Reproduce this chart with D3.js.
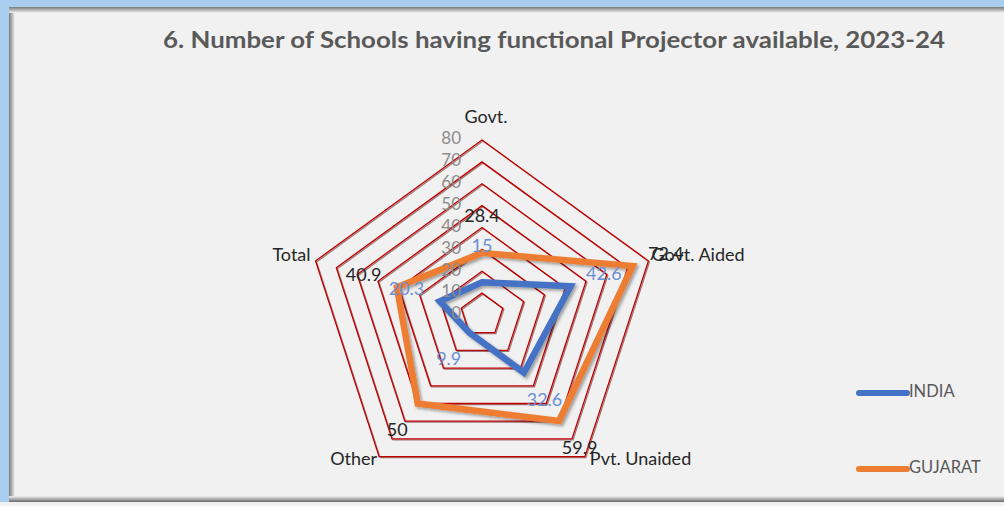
<!DOCTYPE html>
<html>
<head>
<meta charset="utf-8">
<script src="https://cdn.jsdelivr.net/npm/d3@7"></script>
<style>
  html, body { margin: 0; padding: 0; background: #f1f1f1; }
  svg { display: block; }
  text { font-family: Lato, "Open Sans", "DejaVu Sans", sans-serif; }
</style>
</head>
<body>
<svg id="chart" width="1004" height="506"></svg>
<script>
const categories = ["Govt.", "Govt. Aided", "Pvt. Unaided", "Other", "Total"];
const india = [15, 42.6, 32.6, 9.9, 20.3];
const gujarat = [28.4, 72.4, 59.9, 50, 40.9];
const tickValues = [0, 10, 20, 30, 40, 50, 60, 70, 80];
const seriesNames = ["INDIA", "GUJARAT"];
const seriesColors = ["#4472c4", "#ed7d31"];
const labelColors = ["#6b8fd2", "#262626"];
const titleText = "6. Number of Schools having functional Projector available, 2023-24";

const W = 1004, H = 506;
const cx = 482, cy = 315, R = 175;
const svg = d3.select("#chart");

// defs
const defs = svg.append("defs");
const gl = defs.append("linearGradient").attr("id", "gl").attr("x1", 0).attr("x2", 1).attr("y1", 0).attr("y2", 0);
gl.append("stop").attr("offset", 0).attr("stop-color", "#7a7a7a");
gl.append("stop").attr("offset", 1).attr("stop-color", "#f1f1f1");
const gt = defs.append("linearGradient").attr("id", "gt").attr("x1", 0).attr("x2", 0).attr("y1", 0).attr("y2", 1);
gt.append("stop").attr("offset", 0).attr("stop-color", "#7a7a7a");
gt.append("stop").attr("offset", 1).attr("stop-color", "#f1f1f1");
const gb = defs.append("linearGradient").attr("id", "gb").attr("x1", 0).attr("x2", 0).attr("y1", 0).attr("y2", 1);
gb.append("stop").attr("offset", 0).attr("stop-color", "#f1f1f1");
gb.append("stop").attr("offset", 1).attr("stop-color", "#6a6a6a");
const sh = defs.append("filter").attr("id", "shadow").attr("x", "-20%").attr("y", "-20%").attr("width", "140%").attr("height", "140%");
sh.append("feDropShadow").attr("dx", 2).attr("dy", 2).attr("stdDeviation", 1.5).attr("flood-color", "#000").attr("flood-opacity", 0.35);
const shr = defs.append("filter").attr("id", "rshadow").attr("x", "-10%").attr("y", "-10%").attr("width", "120%").attr("height", "120%");
shr.append("feDropShadow").attr("dx", 1).attr("dy", 1).attr("stdDeviation", 0.5).attr("flood-color", "#400").attr("flood-opacity", 0.5);

// background & frame
svg.append("rect").attr("width", W).attr("height", H).attr("fill", "#f1f1f1");
svg.append("rect").attr("x", 0).attr("y", 0).attr("width", 9).attr("height", H).attr("fill", "#a9cdef");
svg.append("rect").attr("x", 0).attr("y", 0).attr("width", W).attr("height", 7).attr("fill", "#a9cdef");
svg.append("rect").attr("x", 9).attr("y", 7).attr("width", 6).attr("height", 494).attr("fill", "url(#gl)");
svg.append("rect").attr("x", 9).attr("y", 7).attr("width", W - 9).attr("height", 6).attr("fill", "url(#gt)");
svg.append("rect").attr("x", 9).attr("y", 496).attr("width", W - 9).attr("height", 6).attr("fill", "url(#gb)");
svg.append("rect").attr("x", 0).attr("y", 502).attr("width", W).attr("height", 4).attr("fill", "#f1f1f1");

// title
svg.append("text")
  .attr("x", 163).attr("y", 48)
  .attr("textLength", 782).attr("lengthAdjust", "spacingAndGlyphs")
  .attr("font-size", 22).attr("font-weight", "bold").attr("fill", "#595959")
  .text(titleText);

const r = d3.scaleLinear().domain([0, 80]).range([0, R]);
const n = categories.length;
const ang = i => i * 2 * Math.PI / n;
const px = (i, v) => cx + r(v) * Math.sin(ang(i));
const py = (i, v) => cy - r(v) * Math.cos(ang(i));

const g = svg.append("g").attr("transform", `translate(${cx},${cy})`);

// grid rings
const ring = d3.lineRadial().angle((d, i) => ang(i)).radius(d => r(d)).curve(d3.curveLinearClosed);
g.selectAll(".ring").data(tickValues.filter(t => t > 0)).join("path")
  .attr("d", t => ring(categories.map(() => t)))
  .attr("fill", "none").attr("stroke", "#c00000").attr("stroke-width", 1.3)
  .attr("filter", "url(#rshadow)");

// tick labels
svg.selectAll(".tick").data(tickValues).join("text")
  .attr("x", cx - 21).attr("y", t => cy - r(t))
  .attr("text-anchor", "end").attr("dominant-baseline", "middle")
  .attr("font-size", 17).attr("fill", "#8c8c8c")
  .text(t => t);

// series
const line = d3.lineRadial().angle((d, i) => ang(i)).radius(d => r(d)).curve(d3.curveLinearClosed);
[india, gujarat].forEach((vals, s) => {
  g.append("path").attr("d", line(vals))
    .attr("fill", "none").attr("stroke", seriesColors[s]).attr("stroke-width", 6.5)
    .attr("stroke-linejoin", "miter").attr("filter", "url(#shadow)");
});

// data labels
[india, gujarat].forEach((vals, s) => {
  svg.selectAll(".dl" + s).data(vals).join("text")
    .attr("x", (v, i) => cx + (r(v) + 35) * Math.sin(ang(i)))
    .attr("y", (v, i) => cy - (r(v) + 35) * Math.cos(ang(i)))
    .attr("text-anchor", "middle").attr("dominant-baseline", "middle")
    .attr("font-size", 18).attr("fill", labelColors[s])
    .text(v => v);
});

// category labels
const catPos = [
  { dx: 4, dy: -197, anchor: "middle" },
  { dx: 3, dy: -4, anchor: "start" },
  { dx: 5, dy: 4, anchor: "start" },
  { dx: -2, dy: 4, anchor: "end" },
  { dx: -5, dy: -4, anchor: "end" }
];
svg.selectAll(".cat").data(categories).join("text")
  .attr("x", (c, i) => (i === 0 ? cx : px(i, 80)) + catPos[i].dx)
  .attr("y", (c, i) => (i === 0 ? cy : py(i, 80)) + catPos[i].dy)
  .attr("text-anchor", (c, i) => catPos[i].anchor)
  .attr("dominant-baseline", "middle")
  .attr("font-size", 18).attr("fill", "#262626")
  .text(c => c);

// legend
const legY = [393, 469];
seriesNames.forEach((nm, s) => {
  svg.append("line").attr("x1", 859).attr("x2", 907).attr("y1", legY[s]).attr("y2", legY[s])
    .attr("stroke", seriesColors[s]).attr("stroke-width", 6).attr("stroke-linecap", "round");
  svg.append("text").attr("x", 909).attr("y", legY[s]).attr("dominant-baseline", "middle")
    .attr("font-size", 16.5).attr("fill", "#595959").text(nm);
});
</script>
</body>
</html>
